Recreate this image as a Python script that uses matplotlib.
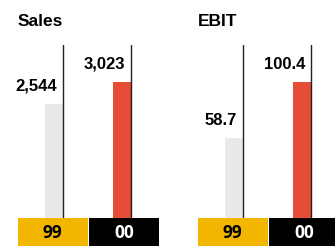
import matplotlib
matplotlib.use('Agg')
import matplotlib.pyplot as plt

# Datos
panels = ['Sales', 'EBIT']
years = ['99', '00']
sales = [2544, 3023]
ebit = [58.7, 100.4]
label_fmt = ['{:,.0f}', '{:.1f}']

# Colores
bar_colors = ['#e9e9e9', '#e74c37']
box_colors = ['#f2b500', '#000000']
box_text = ['#000000', '#ffffff']

W, H = 335, 246
fig = plt.figure(figsize=(W / 100, H / 100), dpi=100)

bar_x = [0.02, 0.97]
bar_w = 0.25

for p, (name, vals) in enumerate(zip(panels, [sales, ebit])):
    off = 180 * p
    # Zona de barras
    ax = fig.add_axes([(17 + off) / W, 28 / H, 143 / W, 173 / H])
    ax.set_xlim(-0.5, 1.5)
    ax.set_ylim(0, max(vals) * 1.272)
    ax.bar(bar_x, vals, width=bar_w, color=bar_colors)
    for i, v in enumerate(vals):
        xr = bar_x[i] + bar_w / 2
        ax.axvline(xr, 0, 1, color='#222222', lw=1.0)
        ax.annotate(label_fmt[p].format(v), xy=(xr, v), xytext=(-6, 13),
                    textcoords='offset pixels', ha='right', va='baseline',
                    fontsize=12, fontweight='bold', family='Liberation Sans')
    ax.axis('off')

    # Cajas de años
    bx = fig.add_axes([(17 + off) / W, 0, 143 / W, 28 / H])
    bx.set_xlim(-0.5, 1.5)
    bx.set_ylim(0, 1)
    bx.bar([0, 1], [1, 1], width=0.985, color=box_colors)
    for i, y in enumerate(years):
        bx.text(i, 0.45, y, ha='center', va='center', fontsize=12.5,
                fontweight='bold', color=box_text[i], family='Open Sans')
    bx.axis('off')

    # Titulo
    fig.text((18 + off) / W, 1 - 26 / H, name, ha='left', va='baseline',
             fontsize=12.5, fontweight='bold', family='Liberation Sans')

fig.savefig('out.png', dpi=100)
